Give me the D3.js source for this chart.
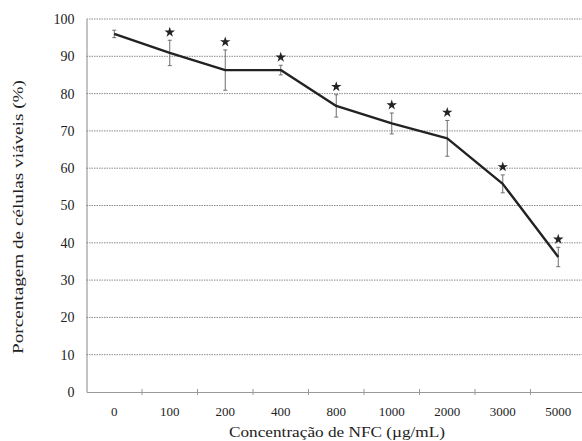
<!DOCTYPE html>
<html>
<head>
<meta charset="utf-8">
<script src="https://cdn.jsdelivr.net/npm/d3@7"></script>
<style>
  html, body { margin: 0; padding: 0; background: #fff; }
  svg { display: block; }
  svg text { font-family: "Liberation Serif", "Times New Roman", "DejaVu Serif", serif; }
</style>
</head>
<body>
<svg id="chart" width="582" height="441"></svg>
<script>
const categories = ["0", "100", "200", "400", "800", "1000", "2000", "3000", "5000"];
const viability = [96.0, 90.9, 86.3, 86.3, 76.7, 72.0, 68.0, 55.8, 36.2];
const errors = [1.0, 3.4, 5.4, 1.3, 3.0, 2.8, 4.8, 2.4, 2.6];
const significant = [false, true, true, true, true, true, true, true, true];
const yTicks = [0, 10, 20, 30, 40, 50, 60, 70, 80, 90, 100];
const xTitle = "Concentração de NFC (µg/mL)";
const yTitle = "Porcentagem de células viáveis (%)";

(function () {
const svg = d3.select("#chart");
const mLeft = 86.5, mRight = 586, mTop = 19, mBottom = 392;

const x = d3.scaleBand().domain(categories).range([mLeft, mRight]).padding(0);
const y = d3.scaleLinear().domain([0, 100]).range([mBottom, mTop]);
const cx = d => x(d) + x.bandwidth() / 2;

// gridlines
svg.append("g").selectAll("line").data(yTicks.filter(t => t > 0)).join("line")
  .attr("x1", mLeft).attr("x2", mRight)
  .attr("y1", d => y(d)).attr("y2", d => y(d))
  .attr("stroke", "#8a8a8a").attr("stroke-width", 1)
  .attr("stroke-dasharray", "1.5,1");

// y axis
const yAxis = svg.append("g").attr("transform", `translate(${mLeft},0)`)
  .call(d3.axisLeft(y).tickValues(yTicks).tickSize(0).tickPadding(12));
yAxis.attr("font-family", null);
yAxis.select(".domain").attr("stroke", "#888").attr("stroke-width", 1);
yAxis.selectAll("text").attr("font-size", 14).attr("fill", "#222");

// x axis
const xAxis = svg.append("g").attr("transform", `translate(0,${mBottom})`)
  .call(d3.axisBottom(x).tickSize(0).tickPadding(15));
xAxis.attr("font-family", null);
xAxis.select(".domain").attr("stroke", "#999").attr("stroke-width", 1);
xAxis.selectAll("text").attr("font-size", 13).attr("fill", "#222");
// boundary tick marks between categories
svg.append("g").selectAll("line").data(categories.slice(1)).join("line")
  .attr("x1", d => x(d)).attr("x2", d => x(d))
  .attr("y1", mBottom - 3).attr("y2", mBottom + 3)
  .attr("stroke", "#999").attr("stroke-width", 1);

// error bars
const eb = svg.append("g").attr("stroke", "#6f6f6f").attr("stroke-width", 1);
categories.forEach((c, i) => {
  const hi = y(viability[i] + errors[i]), lo = y(viability[i] - errors[i]);
  eb.append("line").attr("x1", cx(c)).attr("x2", cx(c)).attr("y1", hi).attr("y2", lo);
  eb.append("line").attr("x1", cx(c) - 2).attr("x2", cx(c) + 2).attr("y1", hi).attr("y2", hi);
  eb.append("line").attr("x1", cx(c) - 2).attr("x2", cx(c) + 2).attr("y1", lo).attr("y2", lo);
});

// line
const line = d3.line().x((d, i) => cx(categories[i])).y(d => y(d));
svg.append("path").datum(viability)
  .attr("d", line).attr("fill", "none")
  .attr("stroke", "#222").attr("stroke-width", 2.4).attr("stroke-linejoin", "round");

// stars
svg.append("g").selectAll("path").data(categories.filter((c, i) => significant[i])).join("path")
  .attr("d", d3.symbol().type(d3.symbolStar).size(34))
  .attr("transform", d => {
    const i = categories.indexOf(d);
    return `translate(${cx(d)},${y(viability[i] + errors[i]) - 8})`;
  })
  .attr("fill", "#222");

// titles
svg.append("text")
  .attr("x", 337).attr("y", 437)
  .attr("text-anchor", "middle")
  .attr("font-size", 15).attr("fill", "#222")
  .attr("textLength", 216).attr("lengthAdjust", "spacingAndGlyphs")
  .text(xTitle);

svg.append("text")
  .attr("transform", "translate(23,217) rotate(-90)")
  .attr("text-anchor", "middle")
  .attr("font-size", 15).attr("fill", "#222")
  .attr("textLength", 274).attr("lengthAdjust", "spacingAndGlyphs")
  .text(yTitle);
})();
</script>
</body>
</html>
